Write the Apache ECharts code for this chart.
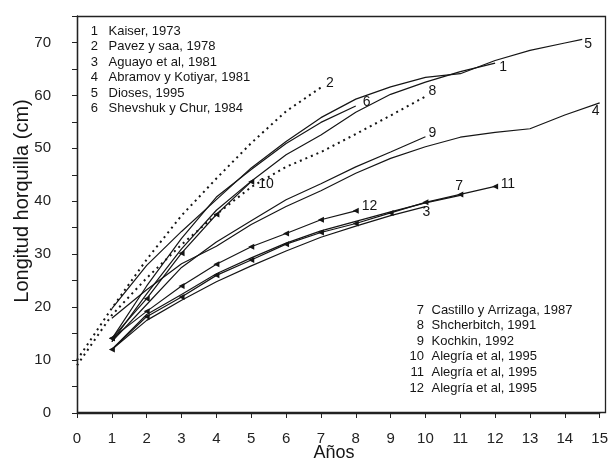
<!DOCTYPE html>
<html><head><meta charset="utf-8">
<script src="https://cdn.jsdelivr.net/npm/echarts@6/dist/echarts.min.js"></script>
<style>html,body{margin:0;padding:0;background:#fff}#c{width:611px;height:469px}</style>
</head><body><div id="c"></div>
<script>
// ---- data ----
const xTicks = [0,1,2,3,4,5,6,7,8,9,10,11,12,13,14,15];
const yTickLabels = [0,10,20,30,40,50,60,70];

const kaiserX = [1,2,3,4,5,6,7,8,9,10,11,12];
const kaiserY = [13.5,22.5,31,38.3,43.8,48.8,52.5,56.8,60.2,62.5,64.5,66.1];
const pavezX = [0,1,2,3,4,5,6,7];
const pavezY = [10,19.8,29,37.3,44.3,51,57,61.5];
const aguayoX = [1,2,3,4,5,6,7,8,9,10];
const aguayoY = [12,17.5,21.3,24.8,27.8,30.6,33.2,35.3,37.3,39.0];
const abramovX = [1,2,3,4,5,6,7,8,9,10,11,12,13,14,15];
const abramovY = [17.9,23.3,28.2,31.5,35.6,39,42,45.3,48.1,50.3,52.1,53,53.7,56.3,58.6];
const diosesX = [1,2,3,4,5,6,7,8,9,10,11,12,13,14,14.5];
const diosesY = [19.7,27.9,34.3,40.3,46.3,51.3,55.8,59.3,61.6,63.4,64.1,66.6,68.5,69.9,70.6];
const shevshukX = [1,2,3,4,5,6,7,8];
const shevshukY = [14,24,33,40.8,46,50.9,54.9,58];
const castilloX = [1,2,3,4,5,6,7,8,9,10,11];
const castilloY = [12,18.6,22.4,26.3,29.3,32.1,34.4,36.2,38,39.7,41.1];
const shcherX = [0,1,2,3,4,5,6,7,8,9,10];
const shcherY = [9,18.5,25.5,31.8,37.5,42.7,46.5,49.3,52.7,56.2,59.8];
const kochkinX = [1,2,3,4,5,6,7,8,9,10];
const kochkinY = [13.5,20.5,27.5,32.3,36.3,40.3,43.3,46.5,49.3,52.2];
const alegriaAX = [1,2,3,4,5];
const alegriaAY = [14.1,21.6,30.2,37.5,43.7];
const alegriaBX = [1,2,3,4,5,6,7,8,9,10,11,12];
const alegriaBY = [12,18.2,21.9,26,28.9,31.9,34.1,35.8,37.8,39.8,41.3,42.8];
const alegriaCX = [1,2,3,4,5,6,7,8];
const alegriaCY = [14.1,19.2,24,28.1,31.4,33.9,36.5,38.2];

const legendLeftNums = ['1','2','3','4','5','6'];
const legendLeftNames = ['Kaiser, 1973','Pavez y saa, 1978','Aguayo et al, 1981','Abramov y Kotiyar, 1981','Dioses, 1995','Shevshuk y Chur, 1984'];
const legendRightNums = ['7','8','9','10','11','12'];
const legendRightNames = ['Castillo y Arrizaga, 1987','Shcherbitch, 1991','Kochkin, 1992','Alegría et al, 1995','Alegría et al, 1995','Alegría et al, 1995'];

// ---- series list ----
const curves = [
  ['1', kaiserX, kaiserY], ['2', pavezX, pavezY], ['3', aguayoX, aguayoY],
  ['4', abramovX, abramovY], ['5', diosesX, diosesY], ['6', shevshukX, shevshukY],
  ['7', castilloX, castilloY], ['8', shcherX, shcherY], ['9', kochkinX, kochkinY],
  ['10', alegriaAX, alegriaAY], ['11', alegriaBX, alegriaBY], ['12', alegriaCX, alegriaCY]
];
// ---- styles (not data) ----
const dottedIds = ['2','8'];
const markerIds = ['10','11','12'];
const labelOffsets = {
  '1':[-4,4], '2':[-3,-4], '3':[-11,6], '4':[-16,8], '5':[-6,5], '6':[-1,-3.5],
  '7':[-13,-9.5], '8':[-5,-5.5], '9':[-5,-4], '10':[-1,2], '11':[-2.5,-2.5], '12':[-2,-5]
};
const FONT = 'Liberation Sans, Arial, Helvetica, sans-serif';
const INK = '#151515';
const FRAME = '#222';
const GRID = { left: 77, right: 5, top: 16, bottom: 56 };
const W = 611, H = 469;

const series = curves.map(([id, xs, ys]) => {
  const dotted = dottedIds.includes(id);
  const marker = markerIds.includes(id);
  return {
    type: 'line',
    name: id,
    data: xs.map((x, i) => [x, ys[i]]),
    showSymbol: marker,
    symbol: 'triangle',
    symbolSize: 6,
    symbolRotate: 90,
    itemStyle: { color: INK },
    lineStyle: dotted ? { color: INK, width: 2, type: [2, 4], cap: 'butt' } : { color: INK, width: 1.2 },
    endLabel: { show: true, formatter: id, offset: labelOffsets[id], color: INK, fontSize: 14, fontFamily: FONT },
    emphasis: { disabled: true },
    silent: true,
    animation: false
  };
});

const graphics = [];
// plot frame (box around the grid area)
graphics.push({ type: 'rect', z: 100, silent: true,
  shape: { x: GRID.left + 0.5, y: GRID.top + 0.5, width: W - GRID.left - GRID.right - 1, height: H - GRID.top - GRID.bottom - 1 },
  style: { fill: 'none', stroke: FRAME, lineWidth: 1.3 } });
legendLeftNums.forEach((n, i) => {
  const y = 31 + 15.5 * i;
  graphics.push({ type: 'text', x: 98, y: y, style: { text: n, font: '13px ' + FONT, fill: INK, textAlign: 'right', textVerticalAlign: 'middle' } });
  graphics.push({ type: 'text', x: 108.5, y: y, style: { text: legendLeftNames[i], font: '13px ' + FONT, fill: INK, textAlign: 'left', textVerticalAlign: 'middle' } });
});
legendRightNums.forEach((n, i) => {
  const y = 310 + 15.6 * i;
  graphics.push({ type: 'text', x: 424, y: y, style: { text: n, font: '13px ' + FONT, fill: INK, textAlign: 'right', textVerticalAlign: 'middle' } });
  graphics.push({ type: 'text', x: 431.5, y: y, style: { text: legendRightNames[i], font: '13px ' + FONT, fill: INK, textAlign: 'left', textVerticalAlign: 'middle' } });
});
graphics.push({ type: 'text', x: 334, y: 453, style: { text: 'Años', font: '18px ' + FONT, fill: INK, textAlign: 'center', textVerticalAlign: 'middle' } });
graphics.push({ type: 'text', x: 22, y: 201, rotation: Math.PI / 2, style: { text: 'Longitud horquilla (cm)', font: '20px ' + FONT, fill: INK, textAlign: 'center', textVerticalAlign: 'middle' } });

const chart = echarts.init(document.getElementById('c'), null, { renderer: 'canvas' });
chart.setOption({
  backgroundColor: '#fff',
  animation: false,
  grid: { left: GRID.left, right: GRID.right, top: GRID.top, bottom: GRID.bottom },
  xAxis: {
    type: 'value', min: 0, max: 15, interval: 1,
    axisLine: { show: true, onZero: false, lineStyle: { color: FRAME, width: 1.3 } },
    axisTick: { show: true, inside: false, length: 5, lineStyle: { color: FRAME } },
    axisLabel: { show: true, margin: 18, fontSize: 15, color: '#222', fontFamily: FONT,
      formatter: v => xTicks.includes(v) ? String(v) : '' },
    splitLine: { show: false }
  },
  yAxis: {
    type: 'value', min: 0, max: 75, interval: 5,
    axisLine: { show: true, onZero: false, lineStyle: { color: FRAME, width: 1.3 } },
    axisTick: { show: true, inside: false, length: 5, lineStyle: { color: FRAME } },
    axisLabel: { show: true, margin: 26, fontSize: 15, color: '#222', fontFamily: FONT,
      formatter: v => yTickLabels.includes(v) ? String(v) : '' },
    splitLine: { show: false }
  },
  series: series,
  graphic: graphics
});
</script>
</body></html>
